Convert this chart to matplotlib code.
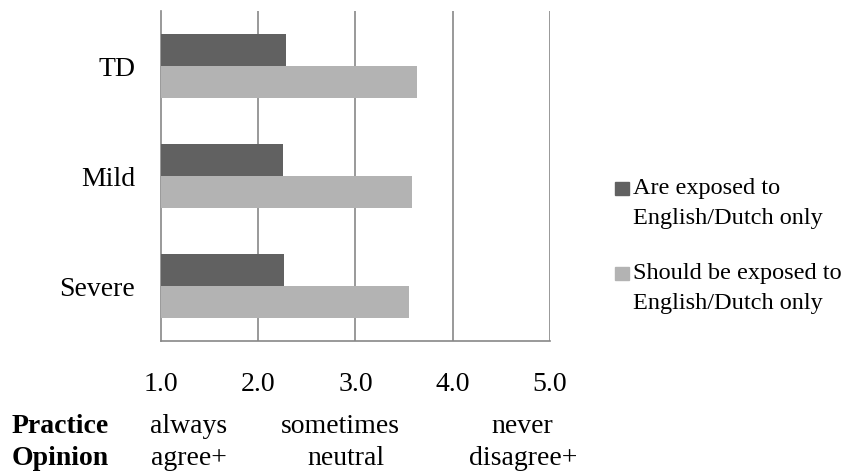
import matplotlib.pyplot as plt
from matplotlib.patches import Rectangle
import numpy as np

plt.rcParams['font.family'] = ['Liberation Serif', 'DejaVu Serif']

categories = ['Severe', 'Mild', 'TD']
exposed = [2.26, 2.25, 2.29]
should = [3.55, 3.58, 3.63]
series_names = ['Are exposed to\nEnglish/Dutch only',
                'Should be exposed to\nEnglish/Dutch only']
colors = ['#616161', '#b3b3b3']
xticks = [1.0, 2.0, 3.0, 4.0, 5.0]
practice = ['always', 'sometimes', 'never']
opinion = ['agree+', 'neutral', 'disagree+']

W, H = 845, 474
grid_col = '#878787'

fig = plt.figure(figsize=(W / 100, H / 100), dpi=100)
ax = fig.add_axes([161 / W, 1 - 341 / H, (550 - 161) / W, (341 - 11) / H])

y = np.arange(len(categories))
h = 0.29
ax.barh(y + h / 2, [v - 1 for v in exposed], left=1, height=h, color=colors[0], zorder=3)
ax.barh(y - h / 2, [v - 1 for v in should], left=1, height=h, color=colors[1], zorder=3)

ax.set_xlim(1, 5)
ax.set_ylim(-0.5, len(categories) - 0.5)
ax.set_xticks(xticks)
ax.set_xticklabels([f'{t:.1f}' for t in xticks], fontsize=20)
ax.set_yticks(y)
ax.set_yticklabels(categories, fontsize=20)
ax.tick_params(axis='x', length=0, pad=22)
ax.tick_params(axis='y', length=0, pad=18.5)
for t in xticks[1:]:
    ax.axvline(t, color=grid_col, lw=1.2, zorder=1)
for s in ['top', 'right']:
    ax.spines[s].set_visible(False)
for s in ['left', 'bottom']:
    ax.spines[s].set_color(grid_col)
    ax.spines[s].set_linewidth(1.2)

# legend drawn by hand so the box lines up with the first text line
leg_box_y = [182, 267]
for name, col, top in zip(series_names, colors, leg_box_y):
    fig.patches.append(Rectangle((615 / W, 1 - (top + 13) / H), 14 / W, 13 / H,
                                 transform=fig.transFigure, color=col))
    fig.text(633 / W, 1 - (top - 4) / H, name, fontsize=17.5, va='top',
             ha='left', linespacing=1.55)

# scale descriptions under the axis
fig.text(12 / W, 1 - 433 / H, 'Practice', fontsize=20, fontweight='bold', va='baseline')
fig.text(12 / W, 1 - 465 / H, 'Opinion', fontsize=20, fontweight='bold', va='baseline')
for lab, xc in zip(practice, [189, 340, 522]):
    fig.text(xc / W, 1 - 433 / H, lab, fontsize=20, ha='center', va='baseline')
for lab, xc in zip(opinion, [189, 346, 523]):
    fig.text(xc / W, 1 - 465 / H, lab, fontsize=20, ha='center', va='baseline')

fig.savefig('out.png', dpi=100)
